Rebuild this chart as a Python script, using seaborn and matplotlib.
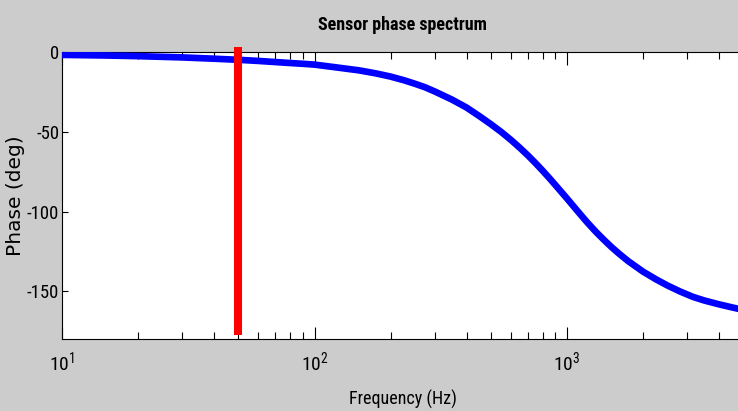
import matplotlib
matplotlib.use("Agg")
import matplotlib.pyplot as plt
from matplotlib import font_manager
from matplotlib.ticker import LogLocator, NullFormatter, LogFormatterSciNotation, FixedLocator
import numpy as np
import pandas as pd
import seaborn as sns

# Sensor phase response (Hz, degrees)
freq_hz = [10, 15, 20, 30, 40, 50, 60, 70, 80, 90, 100, 120, 150, 175, 200,
           225, 250, 275, 300, 350, 400, 450, 500, 550, 600, 650, 700, 750,
           800, 850, 900, 1000, 1100, 1200, 1300, 1400, 1500, 1600, 1750, 2000,
           2250, 2500, 2800, 3150, 3500, 4000, 4500, 5000]
phase_deg = [-1.8, -2.2, -2.6, -3.4, -4.2, -4.9, -5.6, -6.3, -6.9, -7.4, -7.9,
             -9.5, -11.5, -13.4, -15.4, -17.6, -19.9, -22.2, -24.8, -29.8,
             -34.8, -40.2, -45.3, -50.2, -55.1, -60.0, -64.8, -69.6, -74.3,
             -78.9, -83.4, -91.8, -99.6, -106.6, -112.6, -117.7, -122.2,
             -126.1, -131.1, -137.6, -142.4, -146.3, -150.0, -153.4, -155.7,
             -158.1, -160.0, -161.6]

# Marker at the operating frequency
marker_freq = 50
marker_span = [3, -177]

x_limits = [10, 5000]
y_limits = [-180, 0]
y_ticks = [-150, -100, -50, 0]
x_major = [10, 100, 1000]

title_text = "Sensor phase spectrum"
x_label = "Frequency (Hz)"
y_label = "Phase (deg)"

sns.set_theme(style="ticks")

fonts = font_manager.fontManager.ttflist
names = sorted({f.name for f in fonts})
preferred = ["Liberation Sans Narrow", "Roboto Condensed", "Open Sans Condensed",
             "Noto Sans Condensed", "DejaVu Sans Condensed"]
condensed = [n for n in preferred if n in names]
condensed += [n for n in names if ("Narrow" in n or "Condensed" in n)
              and "Mono" not in n and "Serif" not in n and n not in condensed]


def has_bold(name):
    return any(f.name == name and (f.weight in ("bold", 700, 600, "semibold")
               or (isinstance(f.weight, int) and f.weight >= 600)) for f in fonts)


bold_ok = [n for n in condensed if has_bold(n)]
if condensed:
    base_font = condensed[0]
    title_font = bold_ok[0] if bold_ok else base_font
    sizes = dict(title=13, xlabel=13, xtick=14, ytick=13.5)
else:
    base_font = "Liberation Sans"
    title_font = base_font
    sizes = dict(title=11, xlabel=11, xtick=11.5, ytick=11.2)
plt.rcParams["font.family"] = [base_font, "DejaVu Sans"]
plt.rcParams["axes.unicode_minus"] = False
plt.rcParams["mathtext.default"] = "regular"

W, H = 738, 411
fig = plt.figure(figsize=(W / 100, H / 100), dpi=100, facecolor="#cccccc")

left_px, right_px, top_px, bottom_px = 62, 743.5, 52, 339.3
ax = fig.add_axes([left_px / W, 1 - bottom_px / H,
                   (right_px - left_px) / W, (bottom_px - top_px) / H])
ax.set_facecolor("white")
ax.set_xscale("log")

df = pd.DataFrame({"freq": freq_hz, "phase": phase_deg})
sns.lineplot(data=df, x="freq", y="phase", ax=ax, color="#0000ff",
             linewidth=4.8, zorder=3, solid_capstyle="butt")
ax.plot([marker_freq, marker_freq], marker_span, color="#ff0000",
        linewidth=5.8, solid_capstyle="butt", clip_on=False, zorder=4)

ax.set_xlim(*x_limits)
ax.set_ylim(*y_limits)
ax.set_xlabel("")
ax.set_ylabel("")

ax.xaxis.set_major_locator(FixedLocator(x_major))
ax.xaxis.set_major_formatter(LogFormatterSciNotation())
ax.xaxis.set_minor_locator(LogLocator(base=10, subs=np.arange(2, 10)))
ax.xaxis.set_minor_formatter(NullFormatter())
ax.set_yticks(y_ticks)

for s in ax.spines.values():
    s.set_visible(True)
    s.set_color("black")
    s.set_linewidth(0.8)

ax.tick_params(axis="both", which="both", direction="in", top=True, right=True,
               colors="black", width=0.8)
ax.tick_params(axis="x", which="major", length=9, pad=8, labelsize=sizes["xtick"])
ax.tick_params(axis="x", which="minor", length=4.8)
ax.tick_params(axis="y", which="major", length=4.5, pad=2, labelsize=sizes["ytick"])

cx = (left_px + right_px) / 2 / W
fig.text(cx, 1 - 30 / H, title_text, ha="center", va="baseline",
         fontsize=sizes["title"], fontweight="bold", color="black",
         family=[title_font, "DejaVu Sans"])
fig.text(cx, 1 - 405 / H, x_label, ha="center", va="baseline",
         fontsize=sizes["xlabel"], color="black")
fig.text(16 / W, 1 - ((top_px + bottom_px) / 2) / H, y_label, rotation=90,
         ha="center", va="center", fontsize=14.5, color="black",
         family=["DejaVu Sans"])

fig.savefig("out.png", dpi=100, facecolor=fig.get_facecolor())
